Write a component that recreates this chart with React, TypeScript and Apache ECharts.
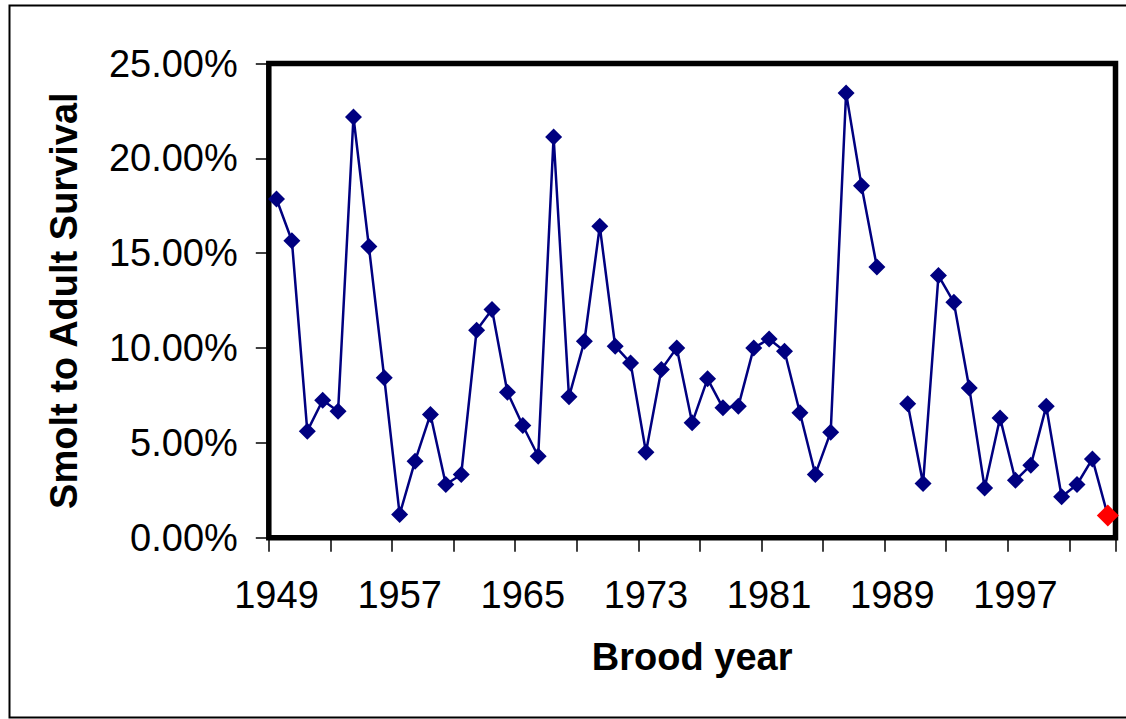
import React, { useEffect, useRef } from "react";
import * as echarts from "echarts";

const years: string[] = [
  "1949", "1950", "1951", "1952", "1953", "1954", "1955", "1956", "1957", "1958",
  "1959", "1960", "1961", "1962", "1963", "1964", "1965", "1966", "1967", "1968",
  "1969", "1970", "1971", "1972", "1973", "1974", "1975", "1976", "1977", "1978",
  "1979", "1980", "1981", "1982", "1983", "1984", "1985", "1986", "1987", "1988",
  "1989", "1990", "1991", "1992", "1993", "1994", "1995", "1996", "1997", "1998",
  "1999", "2000", "2001", "2002", "2003",
];

// Smolt to adult survival, in percent (null = no data)
const survival: (number | null)[] = [
  17.86, 15.66, 5.62, 7.25, 6.67, 22.18, 15.36, 8.43, 1.23, 4.04,
  6.5, 2.81, 3.34, 10.94, 12.03, 7.67, 5.92, 4.3, 21.13, 7.43,
  10.36, 16.42, 10.1, 9.22, 4.51, 8.87, 10.01, 6.06, 8.38, 6.85,
  6.93, 10.01, 10.48, 9.83, 6.59, 3.34, 5.57, 23.45, 18.56, 14.28,
  null, 7.06, 2.86, 13.82, 12.41, 7.9, 2.63, 6.32, 3.03, 3.83,
  6.93, 2.16, 2.81, 4.16, 1.17,
];

const highlightYear = "2003";

const yTicks = { min: 0, max: 25, interval: 5 };

const FONT = "'Liberation Sans', Arial, sans-serif";

export default function App() {
  const ref = useRef<HTMLDivElement>(null);

  useEffect(() => {
    if (!ref.current) return;
    const chart = echarts.init(ref.current, undefined, { renderer: "svg" });

    const highlightData = years.map((y, i) => (y === highlightYear ? survival[i] : null));

    chart.setOption({
      animation: false,
      backgroundColor: "#ffffff",
      textStyle: { fontFamily: FONT },
      grid: {
        left: 268.8,
        top: 63.5,
        right: 10.5,
        bottom: 181.2,
        show: true,
        borderColor: "#000000",
        borderWidth: 5.5,
        backgroundColor: "transparent",
        z: 1,
      },
      graphic: [
        {
          type: "rect",
          z: -1,
          shape: { x: 9.5, y: 5.5, width: 1200, height: 712 },
          style: { fill: "none", stroke: "#000000", lineWidth: 2 },
        },
      ],
      xAxis: {
        type: "category",
        data: years,
        boundaryGap: true,
        name: "Brood year",
        nameLocation: "middle",
        nameGap: 100,
        nameTextStyle: { fontFamily: FONT, fontSize: 38, fontWeight: "bold", color: "#000" },
        axisLine: { show: false },
        axisTick: {
          show: true,
          interval: 3,
          length: 14,
          lineStyle: { color: "#000", width: 1.5 },
        },
        axisLabel: {
          interval: 7,
          margin: 38,
          fontFamily: FONT,
          fontSize: 38,
          color: "#000",
        },
        splitLine: { show: false },
      },
      yAxis: {
        type: "value",
        min: yTicks.min,
        max: yTicks.max,
        interval: yTicks.interval,
        name: "Smolt to Adult Survival",
        nameLocation: "middle",
        nameGap: 186,
        nameTextStyle: { fontFamily: FONT, fontSize: 38, fontWeight: "bold", color: "#000" },
        axisLine: { show: false },
        axisTick: {
          show: true,
          length: 13,
          lineStyle: { color: "#000", width: 1.5 },
        },
        axisLabel: {
          margin: 31,
          fontFamily: FONT,
          fontSize: 38,
          color: "#000",
          formatter: (v: number) => v.toFixed(2) + "%",
        },
        splitLine: { show: false },
      },
      series: [
        {
          name: "Survival",
          type: "line",
          data: survival,
          connectNulls: false,
          symbol: "diamond",
          symbolSize: 17,
          showAllSymbol: true,
          z: 5,
          lineStyle: { color: "#000080", width: 2.5 },
          itemStyle: { color: "#000080", borderWidth: 0 },
        },
        {
          name: "Latest",
          type: "line",
          data: highlightData,
          symbol: "diamond",
          symbolSize: 22,
          showAllSymbol: true,
          clip: false,
          z: 6,
          lineStyle: { width: 0 },
          itemStyle: { color: "#ff0000", borderWidth: 0 },
        },
      ],
    });

    return () => chart.dispose();
  }, []);

  return (
    <div
      ref={ref}
      style={{ position: "absolute", left: 0, top: 0, width: 1126, height: 719 }}
    />
  );
}
